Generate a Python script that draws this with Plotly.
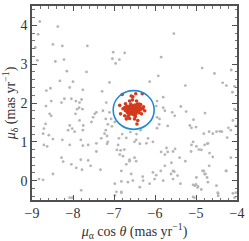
import plotly.graph_objects as go

# Field stars (grey)
field_x = [-8.81, -5.54, -8.85, -8.37, -8.92, -8.49, -8.26, -7.65, -7.02, -6.74,
           -8.87, -8.43, -8.22, -7.04, -6.96, -6.87, -5.85, -8.15, -7.67, -4.85,
           -4.14, -4.55, -5.92, -8.32, -8.00, -8.55, -8.65, -8.08, -7.76, -7.11,
           -7.29, -6.13, -5.26, -4.35, -4.26, -4.11, -4.06, -8.53, -8.66, -8.21,
           -8.28, -8.04, -7.93, -7.79, -7.84, -7.85, -7.77, -7.90, -8.57, -8.53,
           -7.94, -7.47, -7.43, -7.51, -7.55, -7.84, -8.67, -8.08, -7.75, -7.07,
           -6.98, -7.11, -5.95, -5.89, -5.52, -5.58, -5.97, -5.80, -5.76, -5.37,
           -8.71, -8.12, -8.02, -7.76, -7.96, -8.73, -8.59, -7.20, -7.23, -7.17,
           -5.15, -5.11, -4.81, -4.68, -4.59, -4.50, -4.42, -4.15, -4.10, -4.06,
           -7.31, -8.49, -8.26, -7.81, -8.71, -8.63, -8.08, -7.76, -7.63, -7.43,
           -7.15, -6.90, -6.93, -6.88, -6.50, -6.46, -6.17, -6.21, -5.72, -5.07,
           -5.11, -4.99, -4.79, -4.71, -4.87, -7.43, -8.28, -8.24, -7.81, -7.63,
           -6.86, -6.78, -6.70, -6.62, -6.50, -6.46, -5.76, -5.56, -5.40, -5.26,
           -5.60, -4.67, -8.04, -7.92, -7.57, -7.78, -7.33, -8.49, -6.82, -6.58,
           -6.54, -6.05, -5.97, -5.86, -5.76, -5.56, -4.81, -4.79, -4.26, -4.73,
           -4.99, -8.83, -8.73, -7.80, -8.08, -8.02, -6.98, -6.94, -6.82, -6.98,
           -6.66, -6.37, -6.13, -6.01, -5.80, -5.56, -5.07, -5.03, -4.95, -4.87,
           -4.71, -4.50, -4.46, -4.46, -5.07, -4.10, -4.06,
           -7.17, -6.84, -6.62, -6.37, -6.05, -5.85, -6.29, -6.82, -6.82,
           -7.19, -7.27, -7.20, -7.15, -7.05, -5.95, -5.80, -5.90, -5.95,
           -6.60, -6.45, -6.70, -6.35, -6.80, -5.24, -5.06, -5.00, -4.78,
           -4.37, -4.21, -4.24, -4.03, -5.69, -5.69, -5.51, -5.12, -4.93,
           -4.72, -4.59, -4.15, -4.68, -4.84, -4.27, -4.77, -5.00, -4.96,
           -5.53, -5.61, -5.45, -5.38, -4.47, -4.03, -5.04, -6.30, -6.75]
field_y = [4.10, 3.79, 3.77, 3.97, 3.43, 3.51, 3.47, 3.47, 3.31, 3.29,
           3.10, 3.07, 3.12, 3.14, 3.02, 3.12, 3.18, 2.82, 2.80, 2.90,
           2.85, 2.76, 2.70, 2.57, 2.55, 2.38, 2.32, 2.40, 2.34, 2.53,
           2.30, 2.55, 2.45, 2.52, 2.45, 2.28, 2.43, 2.05, 1.92, 2.11,
           2.01, 2.11, 2.05, 2.09, 2.01, 1.88, 1.84, 1.84, 1.72, 1.67,
           1.72, 1.72, 1.76, 1.63, 1.51, 1.55, 1.46, 1.42, 1.42, 1.59,
           1.51, 1.76, 1.63, 1.59, 1.67, 1.76, 1.92, 1.88, 1.80, 1.91,
           1.34, 1.30, 1.34, 1.30, 1.26, 1.21, 1.17, 1.30, 1.21, 1.15,
           1.42, 1.36, 1.21, 1.26, 1.21, 1.26, 1.27, 1.30, 1.55, 1.84,
           1.09, 1.07, 1.05, 1.05, 0.92, 0.88, 0.92, 0.90, 0.92, 0.96,
           1.00, 0.92, 0.79, 1.09, 1.00, 1.05, 1.09, 0.96, 0.84, 1.00,
           0.92, 0.88, 0.92, 0.96, 0.79, 0.75, 0.59, 0.49, 0.54, 0.52,
           0.67, 0.63, 0.42, 0.54, 0.59, 0.50, 0.67, 0.75, 0.59, 0.50,
           0.46, 0.71, 0.42, 0.33, 0.38, 0.28, 0.28, 0.17, 0.25, 0.17,
           0.00, 0.21, 0.14, 0.25, 0.38, 0.25, 0.25, 0.17, 0.25, 0.08,
           0.08, 0.04, 0.02, -0.25, -0.44, -0.44, -0.08, -0.29, -0.29, -0.38,
           -0.04, -0.17, -0.08, 0.04, 0.00, 0.04, -0.11, -0.13, -0.15, -0.23,
           -0.04, -0.13, -0.33, -0.39, -0.42, -0.33, -0.44,
           0.95, 0.78, 0.50, 0.95, 1.00, 0.74, 0.00, -0.02, -0.31,
           2.01, 1.80, 1.59, 1.45, 1.40, 2.05, 2.15, 1.45, 1.35,
           1.25, 1.20, 1.10, 1.30, 1.20, 1.78, 1.57, 1.38, 1.74,
           1.26, 1.36, 1.11, 1.41, 1.41, 0.74, 0.82, 0.75, 0.80,
           0.95, 0.61, 0.59, 0.38, 0.25, 0.25, 0.17, -0.10, -0.18,
           0.23, 0.17, 0.13, -0.08, -0.31, -0.31, -0.44, 0.10, 0.80]

# Cluster members (red)
member_x = [-6.80, -6.58, -6.54, -6.47, -6.31, -6.39, -6.35, -6.86, -6.84, -6.74,
            -6.70, -6.66, -6.50, -6.42, -6.44, -6.33, -6.25, -6.30, -6.62, -6.55,
            -6.45, -6.72, -6.78, -6.28, -6.62, -6.48,
            -6.70, -6.68, -6.66, -6.65, -6.64, -6.63, -6.62, -6.61, -6.60, -6.60,
            -6.59, -6.58, -6.58, -6.57, -6.57, -6.56, -6.56, -6.55, -6.55, -6.54,
            -6.54, -6.53, -6.53, -6.52, -6.52, -6.51, -6.51, -6.50, -6.50, -6.49,
            -6.49, -6.48, -6.48, -6.47, -6.46, -6.45, -6.45, -6.44, -6.43, -6.42,
            -6.41, -6.40, -6.39, -6.38, -6.36, -6.67, -6.69, -6.72, -6.63, -6.59,
            -6.47, -6.43, -6.36, -6.74, -6.61, -6.57, -6.53, -6.51, -6.55, -6.46,
            -6.58, -6.62, -6.50, -6.54, -6.48, -6.64, -6.44]
member_y = [2.22, 2.18, 2.16, 2.24, 2.24, 1.97, 1.96, 1.94, 1.72, 1.67,
            1.59, 1.66, 1.59, 1.55, 1.46, 1.72, 1.80, 1.85, 2.05, 2.08,
            2.05, 1.98, 1.85, 1.90, 1.60, 1.65,
            1.86, 1.82, 1.88, 1.79, 1.84, 1.91, 1.76, 1.86, 1.81, 1.94,
            1.88, 1.78, 1.84, 1.72, 1.90, 1.82, 1.86, 1.79, 1.93, 1.84,
            1.76, 1.88, 1.81, 1.85, 1.70, 1.91, 1.78, 1.83, 1.87, 1.80,
            1.95, 1.84, 1.74, 1.89, 1.81, 1.86, 1.77, 1.92, 1.83, 1.79,
            1.88, 1.84, 1.75, 1.90, 1.82, 1.75, 1.92, 1.80, 1.70, 1.97,
            1.71, 1.97, 1.88, 1.88, 1.83, 1.80, 1.84, 1.82, 1.87, 1.84,
            1.86, 1.80, 1.77, 1.90, 1.87, 1.87, 1.80]

# Selection circle
circle_center = (-6.52, 1.82)
circle_radius = 0.5

x_ticks = [-9, -8, -7, -6, -5, -4]
y_ticks = [0, 1, 2, 3, 4]

FONT = "Liberation Serif"
FRAME = "#505050"

fig = go.Figure()
fig.add_trace(go.Scatter(x=field_x, y=field_y, mode="markers",
                         marker=dict(size=2.8, color="#b5b5b5", line=dict(width=0)),
                         showlegend=False, hoverinfo="skip"))
fig.add_trace(go.Scatter(x=member_x, y=member_y, mode="markers",
                         marker=dict(size=3.6, color="#d23c1c", line=dict(width=0)),
                         showlegend=False, hoverinfo="skip"))

cx, cy = circle_center
fig.add_shape(type="circle", xref="x", yref="y",
              x0=cx - circle_radius, x1=cx + circle_radius,
              y0=cy - circle_radius, y1=cy + circle_radius,
              line=dict(color="#1f8ad0", width=1.6))

axis_common = dict(
    showgrid=False, zeroline=False, showline=True, linewidth=1.6, linecolor=FRAME,
    mirror="allticks", ticks="inside", ticklen=5, tickwidth=1, tickcolor=FRAME,
    tickfont=dict(family=FONT, size=14, color="#333333"),
    minor=dict(ticks="inside", ticklen=2.5, tickwidth=0.8, tickcolor=FRAME,
               dtick=0.2, showgrid=False),
)

fig.update_xaxes(range=[-9, -4], tickvals=x_ticks,
                 ticktext=[f"\u2212{abs(v)}" for v in x_ticks],
                 title=dict(text="<i>μ</i><sub>α</sub> cos <i>θ</i> (mas yr<sup>−1</sup>)",
                            font=dict(family=FONT, size=14, color="#333333"),
                            standoff=6),
                 **axis_common)
fig.update_yaxes(range=[-0.5, 4.5], tickvals=y_ticks,
                 title=dict(text="<i>μ</i><sub>δ</sub> (mas yr<sup>−1</sup>)",
                            font=dict(family=FONT, size=14, color="#333333"),
                            standoff=4),
                 **axis_common)

fig.update_layout(width=249, height=241,
                  margin=dict(l=32, r=12, t=4, b=38),
                  plot_bgcolor="white", paper_bgcolor="white")

fig.write_html("out.html",
               config={"displayModeBar": False, "staticPlot": True},
               post_script="document.body.style.margin='0';document.body.style.overflow='hidden';")
